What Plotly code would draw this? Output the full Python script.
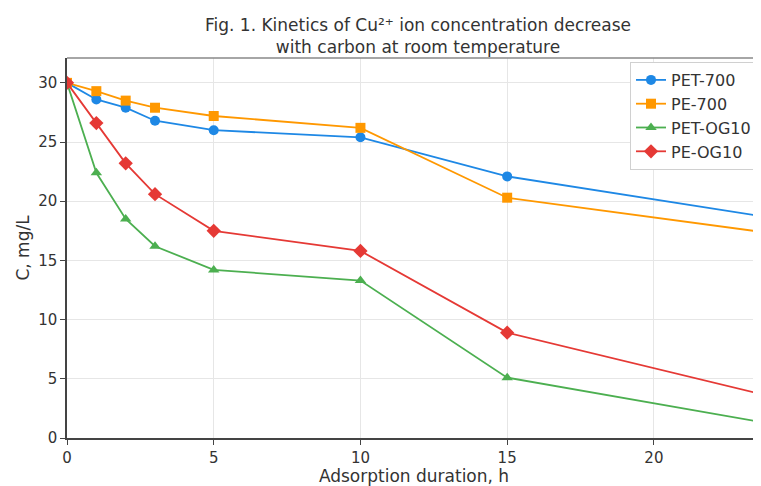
import plotly.graph_objects as go

time_h = [0, 1, 2, 3, 5, 10, 15, 24]
pet_700 = [30.0, 28.6, 27.9, 26.8, 26.0, 25.4, 22.1, 18.6]
pe_700 = [30.0, 29.3, 28.5, 27.9, 27.2, 26.2, 20.3, 17.3]
pet_og10 = [30.0, 22.4, 18.5, 16.2, 14.2, 13.3, 5.1, 1.2]
pe_og10 = [30.0, 26.6, 23.2, 20.6, 17.5, 15.8, 8.9, 3.5]

series_names = ["PET-700", "PE-700", "PET-OG10", "PE-OG10"]
series_values = [pet_700, pe_700, pet_og10, pe_og10]
colors = ["#1E88E5", "#FF9800", "#4CAF50", "#E53935"]
symbols = ["circle", "square", "triangle-up", "diamond"]
sizes = [10, 10, 10, 11]

x_ticks = [0, 5, 10, 15, 20]
y_ticks = [0, 5, 10, 15, 20, 25, 30]

fig = go.Figure()
for name, vals, c, s, sz in zip(series_names, series_values, colors, symbols, sizes):
    fig.add_trace(go.Scatter(
        x=time_h, y=vals, name=name, mode="lines+markers",
        line=dict(color=c, width=1.8),
        marker=dict(symbol=s, size=sz, color=c),
        cliponaxis=True,
    ))

font_family = "DejaVu Sans, sans-serif"
W, H = 753, 478
fig.update_layout(
    width=W, height=H,
    margin=dict(l=59, r=0, t=50, b=48),
    paper_bgcolor="white", plot_bgcolor="white",
    font=dict(family=font_family, size=15, color="#333"),
    title=dict(
        text="Fig. 1. Kinetics of Cu²⁺ ion concentration decrease<br>with carbon at room temperature",
        x=410 / W, xref="container", xanchor="center",
        y=1 - 22.5 / H, yref="container", yanchor="middle",
        font=dict(family=font_family, size=17, color="#333"),
    ),
    legend=dict(
        x=(749 - 59) / (W - 59), y=(430 - 54) / (430 - 50), xanchor="right", yanchor="top",
        bgcolor="white", bordercolor="#d0d0d0", borderwidth=1,
        font=dict(family=font_family, size=16, color="#333"),
        tracegroupgap=0,
    ),
    showlegend=True,
)
fig.update_xaxes(
    range=[0, 23.65], tickvals=x_ticks, ticks="outside", ticklen=5,
    tickcolor="#444", showline=True, linecolor="#444", linewidth=1.5,
    showgrid=True, gridcolor="#e6e6e6", gridwidth=1, zeroline=False,
    title=dict(text="Adsorption duration, h", font=dict(size=17), standoff=4),
    tickfont=dict(size=15),
)
fig.update_yaxes(
    range=[0, 32.1], tickvals=y_ticks, ticks="outside", ticklen=5,
    tickcolor="#444", showline=True, linecolor="#444", linewidth=1.5,
    showgrid=True, gridcolor="#e6e6e6", gridwidth=1, zeroline=False,
    title=dict(text="C, mg/L", font=dict(size=17), standoff=4),
    tickfont=dict(size=15),
)
fig.add_shape(type="line", xref="paper", yref="paper", x0=0, x1=1, y0=1, y1=1,
              line=dict(color="#888", width=1.5))

fig.write_html("out.html")
